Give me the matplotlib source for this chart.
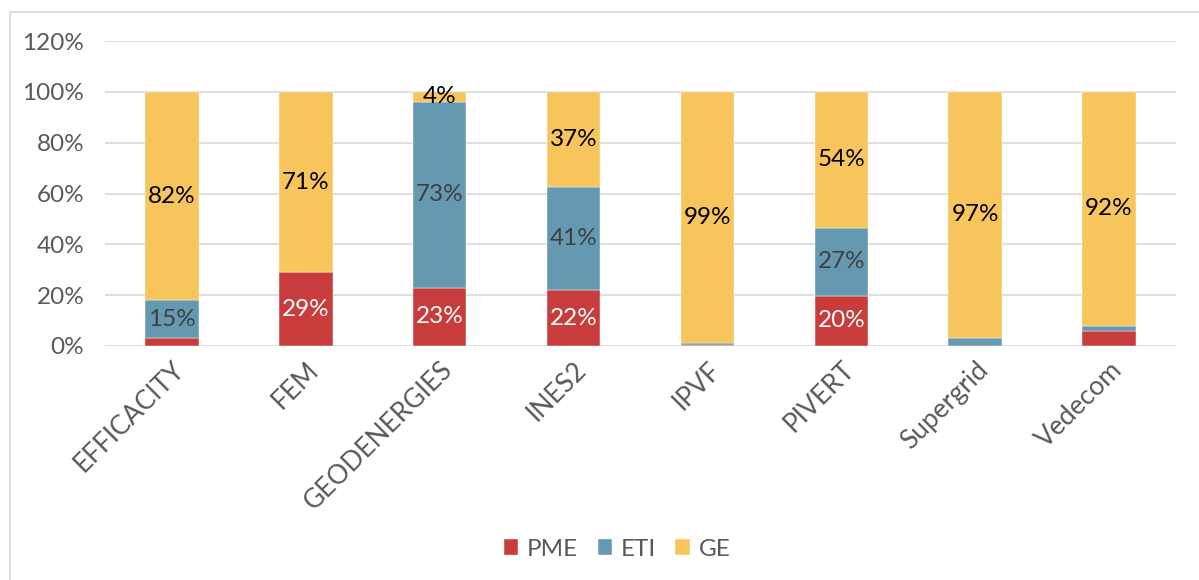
import matplotlib
matplotlib.use("Agg")
import matplotlib.pyplot as plt
import numpy as np
from matplotlib.patches import Rectangle

categories = ["EFFICACITY", "FEM", "GEODENERGIES", "INES2", "IPVF", "PIVERT", "Supergrid", "Vedecom"]
series_names = ["PME", "ETI", "GE"]
pme = [3.2, 29.0, 23.0, 22.0, 0.4, 19.8, 0.0, 6.0]
eti = [14.8, 0.0, 73.0, 40.6, 0.9, 26.7, 3.2, 2.0]
ge = [82.0, 71.0, 4.0, 37.4, 98.7, 53.5, 96.8, 92.0]
pme_labels = ["", "29%", "23%", "22%", "", "20%", "", ""]
eti_labels = ["15%", "", "73%", "41%", "", "27%", "", ""]
ge_labels = ["82%", "71%", "4%", "37%", "99%", "54%", "97%", "92%"]
yticks = [0, 20, 40, 60, 80, 100, 120]
ytick_labels = ["0%", "20%", "40%", "60%", "80%", "100%", "120%"]

colors = ["#C83C3C", "#6499B1", "#F7C55B"]
label_colors = ["white", "#404040", "black"]
FONT = ["Lato", "DejaVu Sans"]
plt.rcParams["font.family"] = FONT

fig = plt.figure(figsize=(11.99, 5.80), dpi=100)
ax = fig.add_axes([105 / 1199, 1 - 346 / 580, (1176 - 105) / 1199, (346 - 41) / 580])

x = np.arange(len(categories))
bottom = np.zeros(len(categories))
all_vals = [pme, eti, ge]
all_labels = [pme_labels, eti_labels, ge_labels]
for vals, name, col, labs, lc in zip(all_vals, series_names, colors, all_labels, label_colors):
    vals = np.array(vals)
    bars = ax.bar(x, vals, 0.4, bottom=bottom, color=col, label=name, zorder=3,
                  edgecolor="white", linewidth=0.3)
    ax.bar_label(bars, labels=labs, label_type="center", color=lc, fontsize=17.5, zorder=4)
    bottom = bottom + vals

ax.set_xlim(-0.5, len(categories) - 0.5)
ax.set_ylim(0, 120)
ax.set_yticks(yticks)
ax.set_yticklabels(ytick_labels)
ax.yaxis.grid(True, color="#D9D9D9", linewidth=1.2, zorder=0)
for s in ax.spines.values():
    s.set_visible(False)
ax.tick_params(axis="y", length=0, labelcolor="#595959", labelsize=17.5, pad=15)
ax.tick_params(axis="x", length=0, labelcolor="#595959", labelsize=19, pad=8)
ax.set_xticks(x)
ax.set_xticklabels(categories, rotation=45, ha="right", rotation_mode="anchor")

leg = fig.legend(loc="center", bbox_to_anchor=(617 / 1199, 1 - 549 / 580), ncol=3, frameon=False,
                 fontsize=17.5, handlelength=0.6, handleheight=0.6, handletextpad=0.35, columnspacing=0.8)
for t in leg.get_texts():
    t.set_color("#595959")

fig.patches.append(Rectangle((10 / 1199, -0.05), 1.2, 1 - 12 / 580 + 0.05, transform=fig.transFigure,
                             fill=False, edgecolor="#D9D9D9", linewidth=1.2))

fig.savefig("out.png", dpi=100, facecolor="white")
